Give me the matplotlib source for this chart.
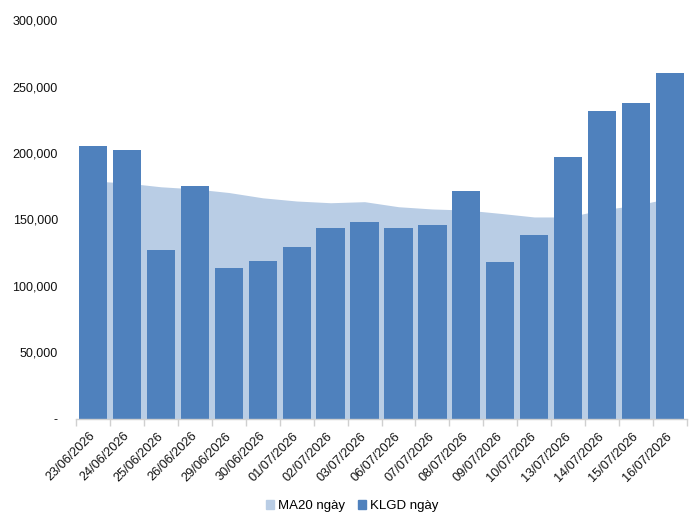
import numpy as np
import matplotlib
matplotlib.use("Agg")
import matplotlib.pyplot as plt
import matplotlib.transforms as mtransforms
from matplotlib.patches import Patch
from matplotlib.ticker import FuncFormatter

plt.rcParams['font.family'] = ['Liberation Sans', 'DejaVu Sans']

# =========================
# Datos
# =========================
ngay = ["23/06/2026", "24/06/2026", "25/06/2026", "26/06/2026", "29/06/2026",
        "30/06/2026", "01/07/2026", "02/07/2026", "03/07/2026", "06/07/2026",
        "07/07/2026", "08/07/2026", "09/07/2026", "10/07/2026", "13/07/2026",
        "14/07/2026", "15/07/2026", "16/07/2026"]

klgd_ngay = [205300, 202000, 127000, 175000, 113500, 118800, 129300, 143600,
             148100, 143600, 145900, 171400, 118000, 138300, 197000, 231600,
             237600, 260200]

ma20_ngay = [179000, 177400, 174600, 173000, 170300, 166300, 163900, 162600,
             163400, 159600, 157900, 157100, 154600, 151900, 151900, 157300,
             160700, 166100]

mau_cot = "#4F81BD"
mau_vung = "#B9CDE5"

# =========================
# Figura
# =========================
fig = plt.figure(figsize=(6.97, 5.17), dpi=100)
ax = fig.add_axes([0.109, 0.1896, 0.8767, 0.7717])

x = np.arange(len(ngay))
ax.fill_between(x, 0, ma20_ngay, color=mau_vung, linewidth=0, zorder=1)
ax.bar(x, klgd_ngay, width=0.83, color=mau_cot, zorder=2)

ax.set_xlim(-0.5, len(ngay) - 0.5)
ax.set_ylim(0, 300000)
ax.set_yticks(np.arange(0, 300001, 50000))
ax.yaxis.set_major_formatter(FuncFormatter(lambda v, p: "-" if v == 0 else f"{int(v):,}"))

ax.set_xticks(x)
ax.set_xticklabels(ngay, rotation=45, ha="right", rotation_mode="anchor")
ax.set_xticks(np.arange(-0.5, len(ngay)), minor=True)
ax.tick_params(axis="x", which="major", length=0, pad=8, labelsize=9.2, colors="#111111")
ax.tick_params(axis="x", which="minor", length=5, width=1, color="#D0D0D0")
ax.tick_params(axis="y", length=0, pad=13, labelsize=9, colors="#111111")

# mover un poco las etiquetas a la izquierda
desplazar = mtransforms.ScaledTranslation(-4 / 100, 0, fig.dpi_scale_trans)
for etiqueta in ax.get_xticklabels():
    etiqueta.set_transform(etiqueta.get_transform() + desplazar)

for lado in ["top", "right", "left"]:
    ax.spines[lado].set_visible(False)
ax.spines["bottom"].set_color("#D0D0D0")
ax.spines["bottom"].set_linewidth(1)
ax.spines["bottom"].set_zorder(3)

handles = [Patch(color=mau_vung, label="MA20 ngày"),
           Patch(color=mau_cot, label="KLGD ngày")]
fig.legend(handles=handles, loc="center", bbox_to_anchor=(0.505, 11 / 517),
           ncol=2, frameon=False, fontsize=9.5, handlelength=0.6,
           handleheight=0.6, handletextpad=0.3, columnspacing=1.0)

plt.savefig("out.png", dpi=100)
plt.close()
